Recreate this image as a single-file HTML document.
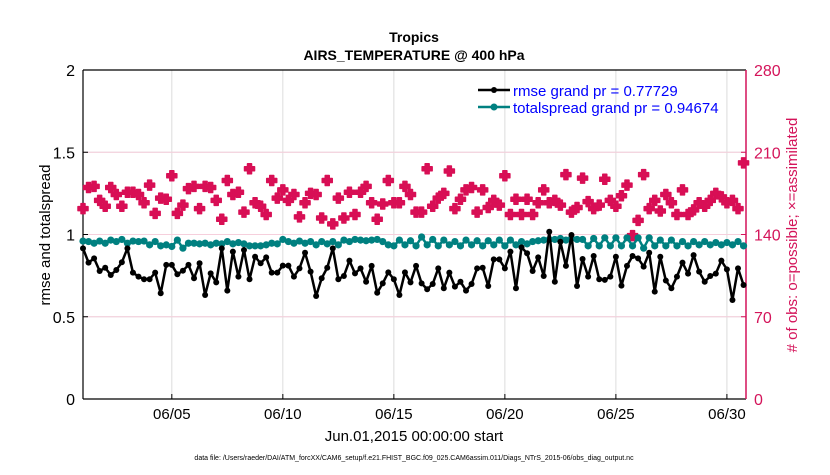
<!DOCTYPE html>
<html><head><meta charset="utf-8"><style>
body{margin:0;background:#fff;width:830px;height:470px;overflow:hidden}
svg text{font-family:"Liberation Sans",Arial,sans-serif}
</style></head><body>
<svg id="chart" width="830" height="470">
<text x="414" y="42" font-size="14" font-weight="bold" text-anchor="middle">Tropics</text>
<text x="414" y="60" font-size="14" font-weight="bold" text-anchor="middle">AIRS_TEMPERATURE @ 400 hPa</text>
<g id="grid"></g>
<g id="axes"></g>
<g id="marks"></g>
<text transform="translate(50,235) rotate(-90)" font-size="15" text-anchor="middle">rmse and totalspread</text>
<text transform="translate(797,235) rotate(-90)" font-size="15" fill="#d4145a" text-anchor="middle"># of obs: o=possible; ×=assimilated</text>
<text x="414" y="441" font-size="15" text-anchor="middle">Jun.01,2015 00:00:00 start</text>
<text x="414" y="460" font-size="7" text-anchor="middle">data file: /Users/raeder/DAI/ATM_forcXX/CAM6_setup/f.e21.FHIST_BGC.f09_025.CAM6assim.011/Diags_NTrS_2015-06/obs_diag_output.nc</text>
<g>
<line x1="478" y1="90" x2="510" y2="90" stroke="#000" stroke-width="2.5"/><circle cx="494" cy="90" r="3" fill="#000"/>
<text x="513" y="96" font-size="15" fill="#0000ff">rmse grand pr = 0.77729</text>
<line x1="478" y1="107" x2="510" y2="107" stroke="#008080" stroke-width="2.5"/><circle cx="494" cy="107" r="3.5" fill="#008080"/>
<text x="513" y="113" font-size="15" fill="#0000ff">totalspread grand pr = 0.94674</text>
</g>
</svg>
<script>
const rmse=[0.916,0.829,0.855,0.778,0.798,0.754,0.784,0.831,0.916,0.768,0.744,0.728,0.728,0.768,0.643,0.815,0.815,0.758,0.780,0.815,0.734,0.825,0.632,0.764,0.709,0.916,0.659,0.896,0.744,0.906,0.728,0.865,0.825,0.861,0.768,0.768,0.811,0.811,0.744,0.794,0.889,
0.774,0.626,0.734,0.798,0.916,0.728,0.748,0.841,0.764,0.794,0.713,0.809,0.646,0.703,0.770,0.728,0.632,0.770,0.709,0.809,0.703,0.667,0.699,0.794,0.673,0.768,0.683,0.713,0.659,0.699,0.794,0.798,0.687,0.849,0.849,0.794,0.896,0.673,0.922,0.886,
0.778,0.861,0.748,1.017,0.713,0.956,0.809,0.997,0.687,0.851,0.744,0.869,0.728,0.724,0.744,0.865,0.689,0.809,0.869,0.855,0.805,0.889,0.653,0.865,0.720,0.673,0.744,0.829,0.762,0.875,0.774,0.713,0.748,0.762,0.841,0.788,0.602,0.794,0.693];
const spread=[0.960,0.957,0.947,0.960,0.947,0.966,0.957,0.970,0.947,0.960,0.957,0.960,0.937,0.957,0.931,0.937,0.927,0.966,0.917,0.947,0.947,0.943,0.947,0.937,0.947,0.943,0.957,0.943,0.951,0.943,0.931,0.931,0.931,0.937,0.947,0.943,0.970,0.957,0.947,0.960,0.947,
0.957,0.937,0.957,0.943,0.957,0.937,0.966,0.957,0.970,0.966,0.962,0.966,0.970,0.957,0.937,0.931,0.966,0.937,0.962,0.931,0.985,0.937,0.970,0.931,0.966,0.937,0.957,0.931,0.966,0.937,0.962,0.931,0.962,0.937,0.966,0.931,0.966,0.937,0.957,0.943,
0.957,0.962,0.966,0.970,0.970,0.976,0.966,0.976,0.970,0.970,0.931,0.976,0.931,0.980,0.931,0.980,0.931,0.980,0.931,0.980,0.917,0.980,0.931,0.966,0.931,0.966,0.931,0.957,0.931,0.957,0.937,0.957,0.937,0.951,0.937,0.951,0.937,0.957,0.931];
const nobs=[162,180,181,169,164,180,174,164,176,176,174,167,182,158,171,170,190,158,165,179,181,162,181,180,169,153,186,174,176,159,196,167,164,157,186,171,178,169,174,155,167,
175,174,154,186,149,171,154,176,157,176,181,167,153,166,186,167,167,181,174,159,159,196,164,171,175,194,162,170,178,180,159,178,163,169,165,190,157,170,157,170,
157,167,178,167,169,165,191,159,163,188,168,162,165,187,169,164,173,182,139,152,191,162,169,160,174,167,157,178,157,161,167,164,169,175,172,167,169,162,201];
const leftTicks=[0,0.5,1,1.5,2];
const rightTicks=[0,70,140,210,280];
const dateTicks=[5,10,15,20,25,30];
const dateLabels=["06/05","06/10","06/15","06/20","06/25","06/30"];

const X0=83,X1=746,Y0=399,Y1=70,D0=1,D1=30.86;
const xs=d=>X0+(d-D0)/(D1-D0)*(X1-X0);
const yl=v=>Y0-v/2*(Y0-Y1);
const yr=v=>Y0-v/280*(Y0-Y1);
const NS="http://www.w3.org/2000/svg";
function mk(parent,tag,attrs){const e=document.createElementNS(NS,tag);for(const k in attrs)e.setAttribute(k,attrs[k]);parent.appendChild(e);return e;}
const grid=document.getElementById('grid'),axes=document.getElementById('axes'),marks=document.getElementById('marks');
dateTicks.forEach((d,i)=>{
  const g=mk(grid,'line',{x1:xs(d),x2:xs(d),y1:Y1,y2:Y0,stroke:'#dcdcdc','stroke-width':1});
  
  
  const t=mk(axes,'line',{x1:xs(d),x2:xs(d),y1:Y0,y2:Y0-5,stroke:'#000'});
  
  
  const l=mk(axes,'text',{x:xs(d),y:Y0+20,'font-size':15,'text-anchor':'middle'});l.textContent=dateLabels[i];
  
  
});
leftTicks.forEach(v=>{
  if(v>0&&v<2){const g=mk(grid,'line',{x1:X0,x2:X1,y1:yl(v),y2:yl(v),stroke:'#dcdcdc'});
  
  }
  const t=mk(axes,'line',{x1:X0,x2:X0+5,y1:yl(v),y2:yl(v),stroke:'#000'});
  
  
  const l=mk(axes,'text',{x:X0-8,y:yl(v)+6,'font-size':16,'text-anchor':'end'});l.textContent=String(v);
  
  
});
rightTicks.forEach(v=>{
  if(v>0&&v<280){const g=mk(grid,'line',{x1:X0,x2:X1,y1:yr(v),y2:yr(v),stroke:'#f6cfdc'});
  
  }
  const t=mk(axes,'line',{x1:X1-5,x2:X1,y1:yr(v),y2:yr(v),stroke:'#d4145a'});
  
  
  const l=mk(axes,'text',{x:X1+8,y:yr(v)+6,'font-size':16,fill:'#d4145a'});l.textContent=String(v);
  
  
});
const b=mk(axes,'path',{d:`M${X0},${Y1}H${X1}M${X0},${Y0}H${X1}M${X0},${Y1}V${Y0}`,stroke:'#000','stroke-width':1.2,fill:'none'});


const ra=mk(axes,'line',{x1:X1,x2:X1,y1:Y1,y2:Y0,stroke:'#d4145a','stroke-width':1.5});


const day=i=>D0+i*0.25;
nobs.forEach((v,i)=>{
  const cx=xs(day(i)),cy=yr(v);
  const p=mk(marks,'path',{d:`M${cx-2},${cy-5}h4v3h3v4h-3v3h-4v-3h-3v-4h3z`,fill:'#d80f55',stroke:'#d80f55','stroke-width':1.5,'stroke-linejoin':'round'});
  
  
});
function series(arr,color,r,name){
  const pl=mk(marks,'polyline',{points:arr.map((v,i)=>xs(day(i))+','+yl(v)).join(' '),fill:'none',stroke:color,'stroke-width':2.5,'stroke-linejoin':'round'});
  
  
  arr.forEach((v,i)=>{
    const c=mk(marks,'circle',{cx:xs(day(i)),cy:yl(v),r:r,fill:color});
    
    
  });
}
series(spread,'#008080',3.6,'totalspread');
series(rmse,'#000000',3,'rmse');
</script>
</body></html>
